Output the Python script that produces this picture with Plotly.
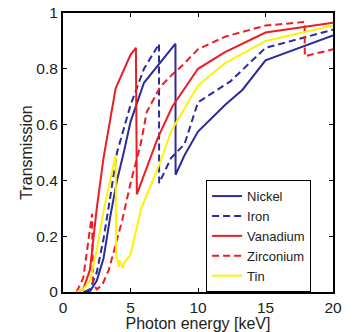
import plotly.graph_objects as go

# Photon energy [keV] and transmission values for each filter material
nickel_e = [1.5, 2.0, 2.5, 3.0, 3.5, 4.0, 4.5, 5.0, 6.0, 7.0, 8.0, 8.33, 8.34, 9.0, 10.0, 12.0, 13.3, 15.0, 20.0]
nickel_t = [0.0, 0.003, 0.04, 0.12, 0.27, 0.40, 0.50, 0.61, 0.75, 0.81, 0.87, 0.89, 0.42, 0.49, 0.575, 0.67, 0.725, 0.83, 0.92]

iron_e = [1.6, 2.0, 2.5, 3.0, 3.5, 4.0, 5.0, 6.0, 7.0, 7.11, 7.12, 8.0, 9.0, 10.0, 12.4, 15.0, 20.0]
iron_t = [0.0, 0.01, 0.07, 0.19, 0.34, 0.50, 0.67, 0.80, 0.88, 0.89, 0.39, 0.48, 0.53, 0.68, 0.755, 0.875, 0.94]

vanadium_e = [1.0, 1.5, 2.0, 2.5, 3.0, 3.9, 5.0, 5.4, 5.47, 6.0, 7.0, 8.1, 10.0, 12.0, 15.0, 20.0]
vanadium_t = [0.0, 0.01, 0.08, 0.30, 0.48, 0.73, 0.85, 0.875, 0.35, 0.42, 0.55, 0.665, 0.80, 0.86, 0.93, 0.965]

zirconium_e = [1.0, 1.5, 2.15, 2.22, 2.5, 2.9, 3.4, 3.9, 4.4, 5.0, 5.8, 6.2, 7.2, 8.1, 8.8, 10.0, 12.0, 15.0, 17.9, 17.91, 20.0]
zirconium_t = [0.0, 0.05, 0.28, 0.03, 0.01, 0.025, 0.08, 0.17, 0.26, 0.39, 0.54, 0.645, 0.735, 0.78, 0.81, 0.87, 0.915, 0.955, 0.968, 0.845, 0.87]

tin_e = [1.0, 1.5, 2.0, 2.5, 3.0, 3.5, 3.9, 3.93, 4.15, 4.17, 4.3, 4.45, 4.47, 5.0, 5.8, 7.2, 8.05, 10.0, 12.0, 15.0, 20.0]
tin_t = [0.0, 0.01, 0.04, 0.15, 0.29, 0.40, 0.49, 0.135, 0.09, 0.115, 0.10, 0.085, 0.10, 0.135, 0.30, 0.465, 0.58, 0.74, 0.82, 0.90, 0.955]

x_ticks = [0, 5, 10, 15, 20]
y_ticks = [0, 0.2, 0.4, 0.6, 0.8, 1]
y_tick_labels = ["0", "0.2", "0.4", "0.6", "0.8", "1"]

BLUE = "#2b2b9c"
RED = "#ee1c25"
YELLOW = "#fff200"

fig = go.Figure()
series = [
    ("Nickel", nickel_e, nickel_t, BLUE, "solid"),
    ("Iron", iron_e, iron_t, BLUE, "7px,4px"),
    ("Vanadium", vanadium_e, vanadium_t, RED, "solid"),
    ("Zirconium", zirconium_e, zirconium_t, RED, "7px,4px"),
    ("Tin", tin_e, tin_t, YELLOW, "solid"),
]
for name, xe, yt, col, dash in series:
    fig.add_trace(go.Scatter(x=xe, y=yt, mode="lines", name=name,
                             line=dict(color=col, width=2, dash=dash)))

font_family = "Liberation Sans, Arial, sans-serif"
fig.update_layout(
    width=356, height=332,
    margin=dict(l=63, r=23, t=13, b=40, autoexpand=False),
    paper_bgcolor="white", plot_bgcolor="white",
    font=dict(family=font_family, size=15.5, color="#222"),
    showlegend=True,
    legend=dict(x=0.53, y=0.401, xanchor="left", yanchor="top",
                bgcolor="white", bordercolor="black", borderwidth=1,
                font=dict(size=13, family=font_family),
                tracegroupgap=0, itemwidth=30),
)
fig.update_xaxes(range=[0, 20], tickvals=x_ticks, ticks="inside", ticklen=4,
                 tickcolor="black", showline=True, linecolor="black", linewidth=2,
                 mirror="ticks", showgrid=False, zeroline=False, automargin=False,
                 title=dict(text="Photon energy [keV]", standoff=0, font=dict(size=16)))
fig.update_yaxes(range=[0, 1], tickvals=y_ticks, ticktext=y_tick_labels, ticks="inside",
                 ticklen=4, tickcolor="black", showline=True, linecolor="black", linewidth=2,
                 mirror="ticks", showgrid=False, zeroline=False, automargin=False,
                 title=dict(text="Transmission", standoff=0, font=dict(size=16)))

fig.write_html("out.html", config={"displayModeBar": False},
               post_script="document.body.style.margin='0';")
